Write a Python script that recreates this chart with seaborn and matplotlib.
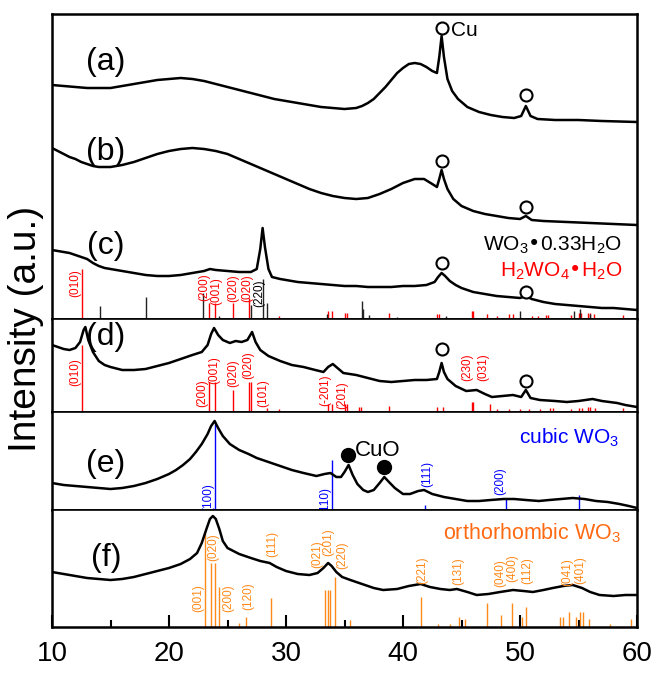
import numpy as np
import pandas as pd
import matplotlib
matplotlib.use("Agg")
import matplotlib.pyplot as plt
import seaborn as sns

sns.set_theme(style="white")
plt.rcParams['font.family'] = ['Liberation Sans', 'DejaVu Sans']
plt.rcParams['mathtext.default'] = 'regular'
plt.rcParams['text.color'] = 'black'
plt.rcParams['axes.labelcolor'] = 'black'
plt.rcParams['xtick.color'] = 'black'

# ---------------- data: patterns (2theta, intensity a.u.) ----------------
a_x = [10, 11, 12, 13, 14, 15, 16, 17, 18, 19, 20, 21, 22, 23, 24, 25, 26, 27, 28, 29, 30, 31, 32, 33, 34,
       35, 36, 36.5, 37, 37.5, 38, 38.5, 39, 39.5, 40, 40.5, 41, 41.5, 42, 42.5, 42.9, 43.1, 43.3, 43.5,
       43.8, 44.2, 44.7, 45.5, 46.5, 47.5, 48.5, 49.5, 50.1, 50.5, 50.9, 51.5, 53, 55, 57, 60]
a_y = [234, 233, 232, 231, 231, 231, 233, 235, 237, 239, 240, 241, 240, 238, 235, 232, 229, 226, 223, 220,
       218, 216, 214, 212, 211, 210, 211, 213, 216, 220, 226, 232, 239, 246, 251, 255, 256, 255, 252, 248,
       246, 262, 283, 262, 240, 228, 220, 212, 207, 204, 202, 201, 203, 213, 203, 200, 199, 199, 198, 197]

b_x = [10, 10.5, 11, 11.5, 12, 12.5, 13, 13.5, 14, 14.5, 15, 15.5, 16, 17, 18, 19, 20, 21, 22, 23, 24, 25,
       26, 27, 28, 29, 30, 31, 32, 33, 34, 35, 36, 37, 38, 39, 40, 41, 41.8, 42.5, 42.9, 43.1, 43.3, 43.5,
       43.8, 44.3, 45, 46, 47, 48, 49, 50, 50.5, 51, 52, 54, 56, 58, 60]
b_y = [171, 168, 165, 162, 160, 157, 155, 153, 152, 152, 152, 153, 154, 157, 161, 165, 168, 170, 171, 170,
       168, 165, 160, 155, 150, 145, 140, 135, 130, 126, 123, 121, 120, 121, 125, 130, 136, 140, 140, 135,
       132, 140, 149, 140, 130, 120, 113, 108, 105, 103, 101, 100, 103, 99, 98, 97, 96, 95, 94]

c_x = [10, 10.5, 11, 11.5, 12, 12.5, 13, 13.5, 14, 14.5, 15, 16, 17, 18, 19, 20, 21, 22, 23, 23.5, 24, 25,
       26, 27, 27.5, 27.8, 28, 28.2, 28.5, 28.8, 29.5, 30, 31, 32, 33, 34, 35, 36, 37, 38, 39, 40, 41, 42,
       42.7, 43, 43.3, 43.6, 44, 44.5, 45, 46, 47, 48, 49, 50, 50.5, 51, 52, 53, 54, 55, 56, 57, 58, 59, 60]
c_y = [69, 68, 67, 66, 64, 62, 60, 56, 53, 51, 50, 48, 46, 44, 43, 43, 44, 46, 48, 50, 49, 48,
       47, 47, 50, 70, 91, 72, 50, 42, 40, 39, 37, 36, 35, 34, 33, 33, 32, 32, 32, 33, 33, 34,
       37, 42, 46, 43, 38, 34, 31, 27, 25, 23, 22, 21, 23, 20, 17, 15, 14, 13, 12, 11, 11, 10, 9]

d_x = [10, 10.5, 11, 11.5, 12, 12.4, 12.7, 12.85, 13.1, 13.5, 14, 14.5, 15, 16, 17, 18, 19, 20, 21, 22,
       22.8, 23.3, 23.6, 23.85, 24.2, 24.6, 25.2, 25.7, 26.2, 26.7, 27.1, 27.4, 27.8, 28.5, 29.5, 30.5,
       31.5, 32.5, 33.2, 33.6, 34, 34.4, 34.9, 36, 37, 38, 39, 40, 41, 42, 42.9, 43.1, 43.3, 43.5, 43.8,
       44.5, 45.4, 46.3, 47, 47.6, 48.5, 49.4, 50.1, 50.5, 50.9, 51.7, 53, 54, 55, 56.2, 57, 58.3, 59, 60]
d_y = [67, 65, 63, 62, 64, 70, 82, 85, 72, 60, 51, 47, 45, 42, 42, 43, 46, 49, 53, 57,
       60, 67, 78, 84, 77, 72, 69, 71, 70, 72, 80, 70, 62, 56, 51, 47,
       45, 42, 40, 45, 48, 44, 39, 37, 34, 31, 30, 31, 32, 32, 33, 40, 49, 40, 33,
       26, 21, 22, 18, 15, 16, 17, 15, 22, 14, 12, 11, 10, 11, 13, 11, 9, 7, 5]

e_x = [10, 11, 12, 13, 14, 15, 16, 17, 18, 19, 20, 20.6, 21.2, 21.8, 22.3, 22.8, 23.3, 23.6, 23.9, 24.2,
       24.6, 25.2, 26, 26.8, 27.5, 28.5, 29.5, 30.5, 31.5, 32.6, 33.3, 33.8, 34.3, 34.7, 35, 35.35, 35.7,
       36.1, 36.6, 37, 37.5, 38, 38.4, 38.8, 39.3, 40, 40.6, 41.3, 41.8, 42.5, 43.5, 44.5, 45.5, 46.5,
       47.5, 48.6, 49.5, 50.5, 51.6, 52.5, 53.5, 54.5, 55.5, 56.5, 57.5, 58.5, 59.3, 60]
e_y = [27, 25, 24, 23, 22, 21, 22, 24, 27, 31, 36, 40, 45, 51, 58, 66, 76, 84, 89, 82,
       74, 66, 60, 56, 52, 48, 44, 40, 37, 34, 36, 37, 33, 33, 38, 45, 35,
       26, 20, 18, 20, 27, 33, 28, 22, 16, 16, 19, 20, 16, 13, 11, 9, 9,
       10, 11, 11, 10, 9, 10, 11, 12, 11, 9, 8, 6, 4, 2]

f_x = [10, 11, 12, 13, 14, 15, 16, 17, 18, 19, 20, 21, 21.8, 22.4, 22.8, 23.2, 23.5, 23.75, 24, 24.3,
       24.6, 25, 25.5, 26, 27, 27.8, 28.6, 29.2, 30, 31, 32, 32.7, 33.2, 33.6, 33.9, 34.3, 34.8, 35.5,
       36.5, 37.5, 38.3, 39.5, 40.5, 41.5, 42.3, 43.2, 44, 44.6, 45.5, 46.3, 47.3, 48.3, 49.4, 50.3,
       51.1, 52, 52.8, 53.7, 54.5, 55.3, 56, 56.8, 58, 59, 60]
f_y = [55, 53, 51, 49, 48, 47, 48, 50, 53, 56, 59, 63, 68, 74, 84, 98, 108, 111, 108, 98,
       86, 79, 76, 73, 69, 66, 64, 60, 56, 53, 52, 54, 59, 64, 61, 55, 50, 47,
       43, 39, 37, 38, 41, 43, 40, 38, 37, 38, 35, 32, 33, 35, 37, 36,
       35, 37, 39, 41, 42, 39, 35, 32, 31, 32, 32]

# ---------------- reference sticks ----------------
h2wo4_c_pos = [12.6, 23.4, 23.9, 25.5, 26.8, 29.4, 33.6, 33.9, 35.0, 35.2, 38.8, 42.9, 43.1, 45.9, 46.0, 47.2,
               48.0, 49.1, 49.4, 51.0, 51.5, 52.2, 52.4, 54.4, 55.0, 55.2, 55.8, 56.0, 56.3, 58.8]
h2wo4_c_int = [50, 16, 16, 16, 21, 3, 8, 8, 6, 6, 6, 5, 5, 8, 8, 5,
               3, 5, 5, 3, 3, 4, 4, 4, 6, 6, 6, 6, 5, 4]
wo3h_pos = [14.1, 18.0, 22.9, 24.3, 27.0, 28.0, 28.4, 33.5, 36.5, 36.6, 37.1, 39.5, 43.7, 50.0, 54.6, 55.1, 56.0]
wo3h_int = [13, 22, 26, 3, 14, 40, 16, 5, 18, 10, 4, 2, 3, 8, 8, 10, 5]

h2wo4_d_pos = [12.6, 23.4, 23.9, 25.5, 26.8, 27.0, 28.4, 29.4, 33.6, 33.9, 35.0, 35.2, 36.2, 36.4, 38.8, 42.9,
               43.4, 45.9, 46.0, 47.4, 48.0, 49.1, 50.0, 50.8, 51.7, 52.6, 52.8, 54.4, 55.0, 55.3, 55.8, 56.0,
               56.4, 58.8]
h2wo4_d_int = [67, 30, 30, 22, 30, 30, 4, 3, 8, 8, 8, 8, 5, 5, 6, 5,
               5, 10, 10, 8, 3, 3, 3, 3, 3, 4, 4, 3, 4, 4, 5, 5,
               4, 4]

cubic_pos = [23.9, 33.9, 41.9, 48.8, 55.0]
cubic_int = [86, 50, 5, 11, 15]

ortho_pos = [23.1, 23.6, 23.9, 24.3, 26.0, 26.6, 28.7, 33.3, 33.6, 33.8, 34.2, 35.5, 41.5, 43.0, 44.0, 44.8, 45.3,
             47.2, 48.4, 49.3, 50.2, 50.5, 53.4, 53.7, 54.2, 54.75, 55.1, 55.4, 55.9, 57.7, 59.5]
ortho_int = [94, 64, 64, 40, 4, 10, 29, 37, 37, 37, 50, 7, 30, 3, 3, 10, 8,
             24, 12, 24, 10, 20, 10, 10, 15, 10, 15, 15, 8, 3, 8]

# ---------------- labels ----------------
c_hkl = ["(010)", "(200)", "(001)", "(020)", "(020)"]
c_hkl_x = [11.97, 23.05, 24.05, 25.47, 26.67]
c_hkl_y = [36, 32, 28, 31, 31]
d_hkl = ["(010)", "(200)", "(001)", "(020)", "(020)", "(101)", "(-201)", "(201)", "(230)", "(031)"]
d_hkl_x = [11.97, 22.82, 23.85, 25.47, 26.75, 28.03, 33.33, 34.79, 45.47, 46.84]
d_hkl_y = [40, 19, 42, 39, 47, 19, 22, 17, 45, 45]
e_hkl = ["(100)", "(110)", "(111)", "(200)"]
e_hkl_x = [23.33, 33.38, 42.05, 48.29]
e_hkl_y = [13, 9, 36, 29]
f_hkl = ["(001)", "(020)", "(200)", "(120)", "(111)", "(021)", "(201)", "(220)", "(221)", "(131)",
         "(040)", "(400)", "(112)", "(041)", "(401)"]
f_hkl_x = [22.48, 23.76, 25.04, 26.75, 28.80, 32.65, 33.59, 34.79, 41.62, 44.70, 48.3, 49.3, 50.60, 54.02, 55.13]
f_hkl_y = [29, 80, 29, 31, 83, 73, 85, 72, 57, 56, 54, 59, 56, 55, 57]

RED = "#FF0000"
BLUE = "#0000FF"
ORANGE = "#FF8A1A"
ORANGE_T = "#FF6A13"

fig = plt.figure(figsize=(6.54, 6.93), dpi=100)
L, W = 52 / 654, 585 / 654


def rect(top, bottom):
    return [L, (693 - bottom) / 693, W, (bottom - top) / 693]


ax_t = fig.add_axes(rect(14, 319))
ax_d = fig.add_axes(rect(319, 412))
ax_e = fig.add_axes(rect(412, 510))
ax_f = fig.add_axes(rect(510, 627))
lims = {ax_t: 305, ax_d: 93, ax_e: 98, ax_f: 117}

for ax, h in lims.items():
    ax.set_xlim(10, 60)
    ax.set_ylim(0, h)
    ax.set_yticks([])
    for s in ax.spines.values():
        s.set_color("black")
        s.set_linewidth(1.2)
    ax.set_xticks([])
    ax.set_facecolor("white")
for ax in lims:
    ax.spines["left"].set_linewidth(1.8)
    ax.spines["right"].set_linewidth(1.8)
ax_t.spines["top"].set_linewidth(1.8)
ax_f.spines["bottom"].set_linewidth(1.8)

lw = 1.8
# sticks first (behind curves)
ax_t.vlines(h2wo4_c_pos, 0, h2wo4_c_int, color=RED, lw=1.0)
ax_t.vlines(wo3h_pos, 0, wo3h_int, color="#222222", lw=1.0)
ax_d.vlines(h2wo4_d_pos, 0, h2wo4_d_int, color=RED, lw=1.0)
ax_e.vlines(cubic_pos, 0, cubic_int, color=BLUE, lw=1.0)
ax_f.vlines(ortho_pos, 0, ortho_int, color=ORANGE, lw=1.0)

for xs, ys in [(a_x, a_y), (b_x, b_y), (c_x, c_y)]:
    sns.lineplot(x=xs, y=ys, ax=ax_t, color="black", lw=lw, sort=False)
sns.lineplot(x=d_x, y=d_y, ax=ax_d, color="black", lw=lw, sort=False)
sns.lineplot(x=e_x, y=e_y, ax=ax_e, color="black", lw=lw, sort=False)
sns.lineplot(x=f_x, y=f_y, ax=ax_f, color="black", lw=lw, sort=False)

# Cu markers
cu_kw = dict(s=75, facecolor="white", edgecolor="black", linewidth=1.5, zorder=5)
ax_t.scatter([43.3, 50.5], [291, 224], **cu_kw)
ax_t.scatter([43.3, 50.5], [158, 112], **cu_kw)
ax_t.scatter([43.3, 50.5], [56, 27], **cu_kw)
ax_d.scatter([43.3, 50.5], [63, 31], **cu_kw)
ax_t.text(44.1, 289, "Cu", fontsize=15, va="center", ha="left")

# CuO markers
ax_e.scatter([35.3, 38.4], [55, 43], s=100, color="black", zorder=5)
ax_e.text(35.9, 60, "CuO", fontsize=16, va="center", ha="left")

# panel tags
tag_kw = dict(fontsize=23, ha="center", va="center")
ax_t.text(14.6, 257, "(a)", **tag_kw)
ax_t.text(14.6, 167, "(b)", **tag_kw)
ax_t.text(14.6, 73, "(c)", **tag_kw)
ax_d.text(14.6, 75, "(d)", **tag_kw)
ax_e.text(14.6, 46, "(e)", **tag_kw)
ax_f.text(14.6, 69, "(f)", **tag_kw)

# phase legends
ax_t.text(58.7, 74, "WO$_3$•0.33H$_2$O", fontsize=15, ha="right", va="center", color="black")
ax_t.text(58.7, 48, "H$_2$WO$_4$•H$_2$O", fontsize=15, ha="right", va="center", color=RED)
ax_e.text(58.5, 72, "cubic WO$_3$", fontsize=15, ha="right", va="center", color=BLUE)
ax_f.text(58.7, 94, "orthorhombic WO$_3$", fontsize=15.5, ha="right", va="center", color=ORANGE_T)

hk = dict(fontsize=8.5, rotation=90, ha="center", va="center")
for t, x, y in zip(c_hkl, c_hkl_x, c_hkl_y):
    ax_t.text(x, y, t, color=RED, **hk)
ax_t.text(27.69, 26, "(220)", color="black", **hk)
for t, x, y in zip(d_hkl, d_hkl_x, d_hkl_y):
    ax_d.text(x, y, t, color=RED, **hk)
for t, x, y in zip(e_hkl, e_hkl_x, e_hkl_y):
    ax_e.text(x, y, t, color=BLUE, **hk)
for t, x, y in zip(f_hkl, f_hkl_x, f_hkl_y):
    ax_f.text(x, y, t, color=ORANGE, **hk)

# bottom axis ticks
ax_f.set_xticks([10, 20, 30, 40, 50, 60])
ax_f.set_xticks([15, 25, 35, 45, 55], minor=True)
ax_f.tick_params(axis="x", which="major", direction="in", length=9, width=1.5, labelsize=20, pad=10,
                 bottom=True, labelcolor="black")
ax_f.tick_params(axis="x", which="minor", direction="in", length=5, width=1.5, bottom=True)
ax_f.set_xlabel("2θ (degree)", fontsize=23, labelpad=0, color="black")
fig.text(0.040, 0.525, "Intensity (a.u.)", rotation=90, fontsize=28, ha="center", va="center")

fig.savefig("out.png", dpi=100)
